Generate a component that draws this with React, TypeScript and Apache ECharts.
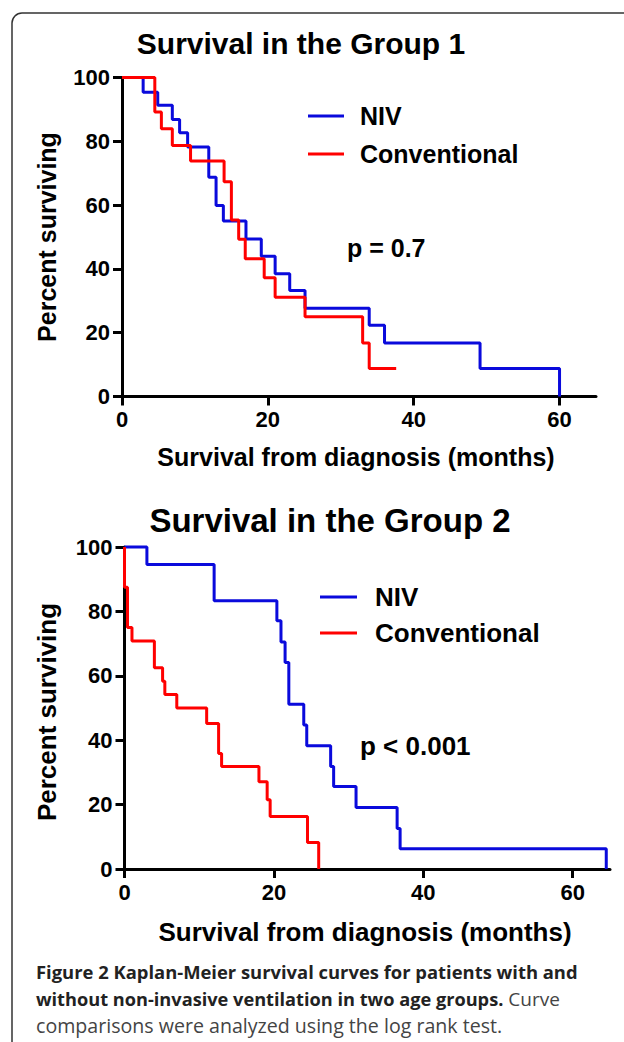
import React, { useEffect, useRef } from "react";
import * as echarts from "echarts";

// Group 1 – Kaplan-Meier steps (time in months, percent surviving)
const g1NivTime = [0, 2.9, 4.9, 6.9, 7.9, 9.0, 11.9, 12.9, 13.9, 17.0, 19.1, 21.0, 23.0, 25.1, 33.9, 36.0, 49.1, 60.0];
const g1NivSurv = [100, 95.4, 91.3, 86.8, 82.7, 78.2, 68.7, 59.9, 55.0, 49.4, 44.0, 38.5, 33.2, 27.7, 22.3, 16.8, 8.8, 0];
const g1ConvTime = [0, 4.5, 5.4, 6.9, 9.4, 14.0, 15.0, 16.0, 16.9, 19.5, 21.0, 25.1, 33.0, 33.9, 37.6];
const g1ConvSurv = [100, 89.2, 83.9, 78.7, 73.8, 67.3, 55.3, 49.3, 43.2, 37.2, 31.1, 25.0, 16.8, 8.8, 8.8];

// Group 2
const g2NivTime = [0, 3.0, 12.0, 20.4, 20.95, 21.5, 22.0, 24.0, 24.4, 27.6, 28.0, 31.0, 36.5, 36.9, 64.5];
const g2NivSurv = [100, 94.6, 83.3, 77.1, 70.5, 64.1, 51.2, 44.7, 38.3, 31.8, 25.6, 19.1, 12.6, 6.3, 0];
const g2ConvTime = [0, 0, 0.4, 1.0, 4.0, 5.1, 5.4, 7.0, 11.0, 12.6, 13.0, 18.0, 19.1, 19.5, 24.5, 26.0];
const g2ConvSurv = [100, 87.5, 75.0, 70.8, 62.5, 58.3, 54.2, 50.0, 45.2, 35.9, 31.8, 27.1, 21.5, 16.3, 8.2, 0];

const xTicks = [0, 20, 40, 60];
const seriesNames = ["NIV", "Conventional"];
const titles = ["Survival in the Group 1", "Survival in the Group 2"];
const pValues = ["p = 0.7", "p < 0.001"];
const xTitle = "Survival from diagnosis (months)";
const yTitle = "Percent surviving";

const BLUE = "#0a0adc";
const RED = "#ff0000";
const FONT = "'Liberation Sans', Arial, sans-serif";

function pairs(t: number[], s: number[]) {
  return t.map((v, i) => [v, s[i]]);
}

export default function App() {
  const ref = useRef<HTMLDivElement>(null);
  useEffect(() => {
    if (!ref.current) return;
    const chart = echarts.init(ref.current, null, { renderer: "svg" });

    const xAxisBase = (gridIndex: number) => ({
      type: "value" as const,
      gridIndex,
      min: 0,
      max: 65,
      splitLine: { show: false },
      axisLine: { lineStyle: { color: "#000", width: 3 } },
      axisTick: { customValues: xTicks, length: 9, lineStyle: { color: "#000", width: 3 } },
      axisLabel: {
        customValues: xTicks,
        margin: 12,
        fontFamily: FONT,
        fontWeight: "bold",
        fontSize: 22,
        color: "#000",
      },
    });
    const yAxisBase = (gridIndex: number) => ({
      type: "value" as const,
      gridIndex,
      min: 0,
      max: 100,
      interval: 20,
      splitLine: { show: false },
      axisLine: { lineStyle: { color: "#000", width: 3 } },
      axisTick: { length: 9, lineStyle: { color: "#000", width: 3 } },
      axisLabel: {
        margin: 12,
        fontFamily: FONT,
        fontWeight: "bold",
        fontSize: 22,
        color: "#000",
      },
    });

    const line = (name: string, data: number[][], color: string, idx: number) => ({
      type: "line" as const,
      name,
      xAxisIndex: idx,
      yAxisIndex: idx,
      data,
      step: "end" as const,
      symbol: "none",
      clip: false,
      lineStyle: { color, width: 3 },
      itemStyle: { color },
    });

    const txt = (text: string, x: number, y: number, size: number, align = "left", extra: any = {}) => ({
      type: "text",
      x,
      y,
      ...extra,
      style: {
        text,
        x: 0,
        y: 0,
        font: `bold ${size}px ${FONT}`,
        fill: "#000",
        textAlign: align,
        textVerticalAlign: "middle",
      },
    });

    const legendLine = (x1: number, x2: number, y: number, color: string) => ({
      type: "line",
      shape: { x1, y1: y, x2, y2: y },
      style: { stroke: color, lineWidth: 3 },
    });

    const capFont = "'Open Sans', 'Noto Sans', sans-serif";

    chart.setOption({
      animation: false,
      backgroundColor: "#fff",
      grid: [
        { left: 122, top: 77.5, width: 474, height: 319 },
        { left: 124.5, top: 547, width: 485.5, height: 322 },
      ],
      xAxis: [xAxisBase(0), xAxisBase(1)],
      yAxis: [yAxisBase(0), yAxisBase(1)],
      series: [
        line(seriesNames[0], pairs(g1NivTime, g1NivSurv), BLUE, 0),
        line(seriesNames[1], pairs(g1ConvTime, g1ConvSurv), RED, 0),
        line(seriesNames[0], pairs(g2NivTime, g2NivSurv), BLUE, 1),
        line(seriesNames[1], pairs(g2ConvTime, g2ConvSurv), RED, 1),
      ],
      graphic: [
        {
          type: "rect",
          shape: { x: 12, y: 13, width: 700, height: 1100, r: 10 },
          style: { fill: "none", stroke: "#333", lineWidth: 1.5 },
          z: -10,
        },
        txt(titles[0], 301, 43, 30, "center"),
        txt(titles[1], 330, 520, 33, "center"),
        txt(yTitle, 47, 237, 25, "center", { rotation: Math.PI / 2 }),
        txt(yTitle, 47, 712, 26, "center", { rotation: Math.PI / 2 }),
        txt(xTitle, 356, 457, 25, "center"),
        txt(xTitle, 365, 932, 26, "center"),
        legendLine(308, 344, 116, BLUE),
        legendLine(308, 344, 154, RED),
        txt(seriesNames[0], 360, 116, 25),
        txt(seriesNames[1], 360, 154, 25),
        legendLine(320, 357, 597, BLUE),
        legendLine(320, 357, 633, RED),
        txt(seriesNames[0], 375, 597, 26),
        txt(seriesNames[1], 375, 633, 26),
        txt(pValues[0], 347, 248, 25),
        txt(pValues[1], 360, 746, 26),
        {
          type: "text",
          x: 36,
          y: 971,
          style: {
            text: "Figure 2 Kaplan-Meier survival curves for patients with and",
            font: `bold 18.4px ${capFont}`,
            fill: "#222",
            textVerticalAlign: "middle",
          },
        },
        {
          type: "text",
          x: 36,
          y: 999,
          style: {
            text: "{b|without non-invasive ventilation in two age groups.}{r| Curve}",
            textVerticalAlign: "middle",
            rich: {
              b: { font: `bold 18.2px ${capFont}`, fill: "#222" },
              r: { font: `19px ${capFont}`, fill: "#444" },
            },
          },
        },
        {
          type: "text",
          x: 36,
          y: 1025,
          style: {
            text: "comparisons were analyzed using the log rank test.",
            font: `19.6px ${capFont}`,
            fill: "#444",
            textVerticalAlign: "middle",
          },
        },
      ],
    });
    return () => chart.dispose();
  }, []);
  return (
    <div
      ref={ref}
      style={{ position: "absolute", left: 0, top: 0, width: 624, height: 1042 }}
    />
  );
}
